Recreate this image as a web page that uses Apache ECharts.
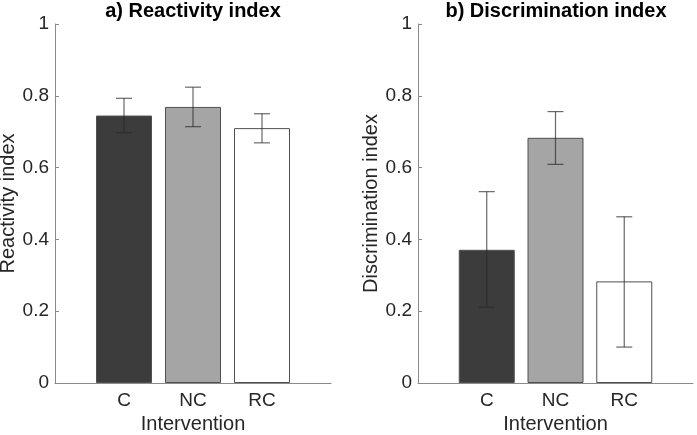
<!DOCTYPE html>
<html><head><meta charset="utf-8">
<script src="https://cdn.jsdelivr.net/npm/echarts@6/dist/echarts.min.js"></script>
<style>html,body{margin:0;padding:0;background:#fff}#c{width:697px;height:435px}</style>
</head><body><div id="c"></div>
<script>
var categories = ['', 'C', 'NC', 'RC', ''];
var reactMean = [0.745, 0.769, 0.710];
var reactLow  = [0.697, 0.714, 0.669];
var reactHigh = [0.793, 0.824, 0.750];
var discMean = [0.371, 0.683, 0.283];
var discLow  = [0.211, 0.609, 0.100];
var discHigh = [0.533, 0.756, 0.463];
var barColors = ['#3c3c3c', '#a5a5a5', '#ffffff'];
var yTicks = [0, 0.2, 0.4, 0.6, 0.8, 1];

var font = 'Liberation Sans, Arial, Helvetica, sans-serif';
var txt = '#262626';
var axisCol = '#8a8a8a';

function xAxis(gi) {
  return {
    type: 'category', gridIndex: gi, data: categories, boundaryGap: false,
    axisLine: {lineStyle: {color: axisCol, width: 1}},
    axisTick: {show: false},
    axisLabel: {color: txt, fontSize: 19, fontFamily: font, margin: 8, interval: 0},
    name: 'Intervention', nameLocation: 'middle', nameGap: 31,
    nameTextStyle: {color: txt, fontSize: 20, fontFamily: font},
    splitLine: {show: false}
  };
}
function yAxis(gi, name) {
  return {
    type: 'value', gridIndex: gi, min: 0, max: 1, interval: 0.2,
    axisLine: {show: true, lineStyle: {color: axisCol, width: 1}},
    axisTick: {show: true, inside: true, length: 4, lineStyle: {color: axisCol}},
    axisLabel: {color: txt, fontSize: 19, fontFamily: font, margin: 6,
      formatter: function (v) { return String(yTicks[Math.round(v * 5)]); }},
    splitLine: {show: false},
    name: name, nameLocation: 'middle', nameGap: 35,
    nameTextStyle: {color: txt, fontSize: 20, fontFamily: font}
  };
}
function barData(vals) {
  var d = [null];
  vals.forEach(function (v, i) {
    d.push({value: v, itemStyle: {color: barColors[i]}});
  });
  d.push(null);
  return d;
}
function errData(lo, hi) {
  return lo.map(function (l, i) { return [i + 1, l, hi[i]]; });
}
function errRender(params, api) {
  var x = api.value(0);
  var p1 = api.coord([x, api.value(1)]);
  var p2 = api.coord([x, api.value(2)]);
  var hw = 8;
  var st = {stroke: 'rgba(40,40,40,0.7)', lineWidth: 1.2, fill: null};
  return {type: 'group', children: [
    {type: 'line', shape: {x1: p1[0], y1: p1[1], x2: p2[0], y2: p2[1]}, style: st},
    {type: 'line', shape: {x1: p1[0] - hw, y1: p1[1], x2: p1[0] + hw, y2: p1[1]}, style: st},
    {type: 'line', shape: {x1: p2[0] - hw, y1: p2[1], x2: p2[0] + hw, y2: p2[1]}, style: st}
  ]};
}
function bars(gi, vals) {
  return {
    type: 'bar', xAxisIndex: gi, yAxisIndex: gi, data: barData(vals), barWidth: 56,
    itemStyle: {borderColor: '#505050', borderWidth: 1}, silent: true, animation: false
  };
}
function errs(gi, lo, hi) {
  return {
    type: 'custom', xAxisIndex: gi, yAxisIndex: gi, data: errData(lo, hi),
    renderItem: errRender, encode: {x: 0, y: [1, 2]}, silent: true, animation: false, z: 5
  };
}

var chart = echarts.init(document.getElementById('c'));
chart.setOption({
  backgroundColor: '#fff',
  animation: false,
  title: [
    {text: 'a) Reactivity index', left: 193, top: 1, padding: 0, textAlign: 'center',
     textStyle: {fontSize: 20, fontWeight: 'bold', color: '#000', fontFamily: font}},
    {text: 'b) Discrimination index', left: 556, top: 1, padding: 0, textAlign: 'center',
     textStyle: {fontSize: 20, fontWeight: 'bold', color: '#000', fontFamily: font}}
  ],
  grid: [
    {left: 55, top: 24, width: 276, height: 359, containLabel: false, outerBoundsMode: 'none'},
    {left: 418, top: 24, width: 275, height: 359, containLabel: false, outerBoundsMode: 'none'}
  ],
  xAxis: [xAxis(0), xAxis(1)],
  yAxis: [yAxis(0, 'Reactivity index'), yAxis(1, 'Discrimination index')],
  series: [
    bars(0, reactMean), errs(0, reactLow, reactHigh),
    bars(1, discMean), errs(1, discLow, discHigh)
  ]
});
</script>
</body></html>
